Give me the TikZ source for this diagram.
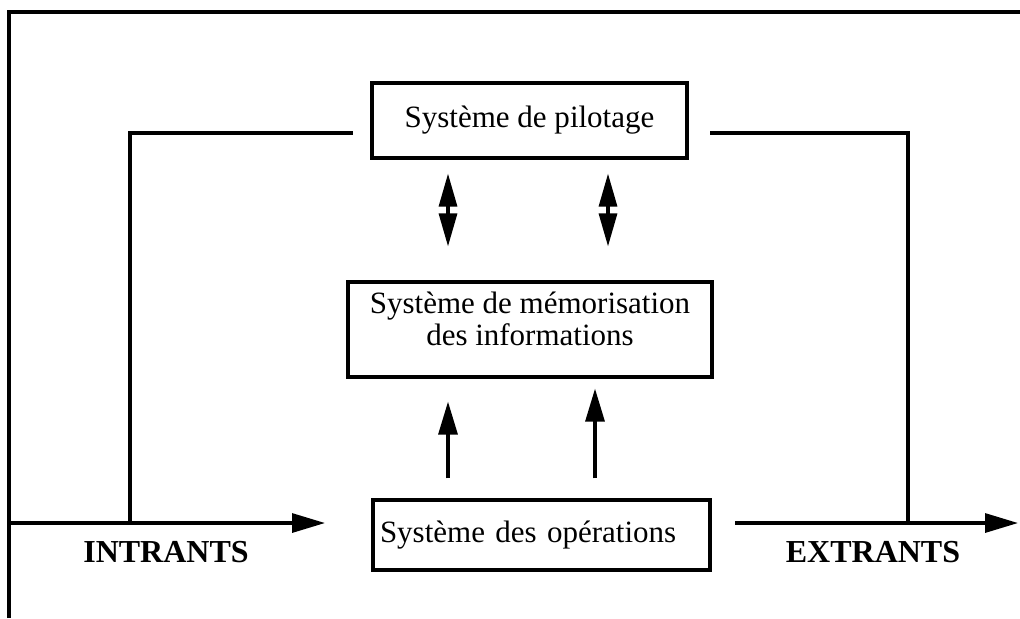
\documentclass[tikz,border=0pt]{standalone}
\usepackage{fontspec}
\setmainfont{Liberation Serif}
\usetikzlibrary{arrows.meta,positioning,calc}

\begin{document}
\begin{tikzpicture}[x=0.5pt,y=-0.5pt,
  boite/.style={draw,line width=1.6pt,inner sep=3.5pt,font=\fontsize{15.5}{16}\selectfont},
  titre/.style={font=\fontsize{16}{18}\selectfont\bfseries},
  trait/.style={line width=1.6pt},
  fleche/.style={line width=1.6pt,-{Triangle[length=16.5pt,width=9.5pt]}},
  echange/.style={line width=1.6pt,{Triangle[length=16.5pt,width=9pt]}-{Triangle[length=16.5pt,width=9pt]}}]
\useasboundingbox (0,0) rectangle (1020,618);
% cadre
\draw[line width=2pt] (9,618) -- (9,12) -- (1020,12);

\node[boite,minimum width=157.5pt,minimum height=37.5pt] (pilotage) at (529.5,120.5) {Système de pilotage};
\node[boite,inner sep=3.75pt,minimum width=182pt] (memoire) at (530,329.5)
  {\parbox[c][40pt][t]{170pt}{\vspace*{1pt}\centering Système de mémorisation\\des informations}};
\node[boite,minimum width=168.5pt,minimum height=35pt,text width=161.5pt,align=left] (operations) at (541.5,535) {Système des opérations};

\node[titre] (intrants) at (166,552) {INTRANTS};
\node[titre] (extrants) at (873,552) {EXTRANTS};

% bouts libres
\coordinate (entree) at (9,523);
\coordinate (e1) at (325,523);
\coordinate (gauche) at (130,523);
\coordinate (gh) at (130,133);
\coordinate (gfin) at (353,133);
\coordinate (dfin) at (710,133);
\coordinate (dh) at (908,133);
\coordinate (droite) at (908,523);
\coordinate (sdebut) at (735,523);
\coordinate (sortie) at (1018,523);
\coordinate (x1) at (448,0);
\coordinate (x2) at (608,0);
\coordinate (x3) at (595,0);

\draw[fleche] (entree) -- (e1);
\draw[trait] (gauche) -- (gh) -- (gfin);
\draw[trait] (dfin) -- (dh) -- (droite);
\draw[fleche] (sdebut) -- (sortie);

\draw[echange] ([yshift=-7pt]pilotage.south -| x1) -- ([yshift=17pt]memoire.north -| x1);
\draw[echange] ([yshift=-7pt]pilotage.south -| x2) -- ([yshift=17pt]memoire.north -| x2);
\draw[fleche] ([yshift=10pt]operations.north -| x1) -- ([yshift=-11.5pt]memoire.south -| x1);
\draw[fleche] ([yshift=10pt]operations.north -| x3) -- ([yshift=-5pt]memoire.south -| x3);
\end{tikzpicture}
\end{document}
